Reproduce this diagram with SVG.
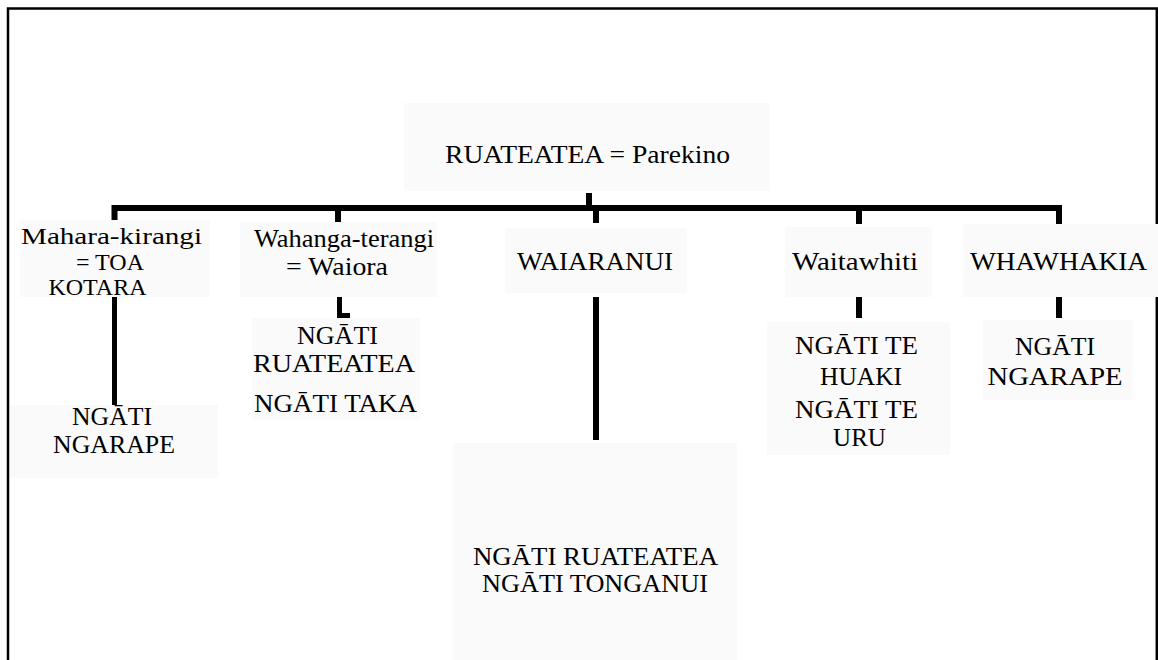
<svg xmlns="http://www.w3.org/2000/svg" width="1158" height="660" viewBox="0 0 1158 660">
  <style>
    .bg { fill: #fafafa; }
    .t { font-size: 25px; fill: #000; text-anchor: middle; }
    .s { font-size: 24px; }
    .ln { stroke: #000; fill: none; stroke-linecap: butt; stroke-linejoin: miter; }
    .frame { stroke: #000; stroke-width: 2.5; fill: none; }
  </style>

  <rect width="1158" height="660" fill="#fff"/>

  <!-- page frame -->
  <path class="frame" d="M8 660 V8.5 H1158 M1156.8 8 V660"/>

  <!-- descent lines -->
  <g id="connectors">
    <path class="ln" stroke-width="6" d="M114.5 222 V208 H1059 V224"/>
    <line class="ln" stroke-width="6" x1="589" y1="193" x2="589" y2="208"/>
    <line class="ln" stroke-width="6" x1="338" y1="208" x2="338" y2="223"/>
    <line class="ln" stroke-width="6" x1="596" y1="208" x2="596" y2="223"/>
    <line class="ln" stroke-width="6" x1="859" y1="208" x2="859" y2="224"/>
    <line class="ln" stroke-width="5" x1="114.5" y1="297" x2="114.5" y2="432"/>
    <path class="ln" stroke-width="5" d="M339.5 297 V315.5 H350"/>
    <line class="ln" stroke-width="6" x1="596" y1="297" x2="596" y2="440"/>
    <line class="ln" stroke-width="6" x1="859" y1="297" x2="859" y2="318"/>
    <line class="ln" stroke-width="6" x1="1059" y1="297" x2="1059" y2="318"/>
  </g>

  <g font-family="Liberation Serif, Times New Roman, serif">
  <g id="ruateatea">
    <rect class="bg" x="404" y="103" width="366" height="88"/>
    <text class="t" x="587.5" y="163" textLength="285" lengthAdjust="spacingAndGlyphs">RUATEATEA = Parekino</text>
  </g>

  <g id="mahara-kirangi">
    <rect class="bg" x="20" y="220" width="190" height="77"/>
    <text class="t s" x="111.5" y="244" textLength="181" lengthAdjust="spacingAndGlyphs">Mahara-kirangi</text>
    <text class="t s" x="110" y="270">= TOA</text>
    <text class="t s" x="97.5" y="295">KOTARA</text>
  </g>

  <g id="ngati-ngarape-left">
    <rect class="bg" x="10" y="405" width="208" height="73"/>
    <text class="t" x="112" y="425" textLength="80" lengthAdjust="spacingAndGlyphs">NGĀTI</text>
    <text class="t" x="114" y="453" textLength="122" lengthAdjust="spacingAndGlyphs">NGARAPE</text>
  </g>

  <g id="wahanga-terangi">
    <rect class="bg" x="240" y="222" width="197" height="75"/>
    <text class="t" x="344" y="247" textLength="180" lengthAdjust="spacingAndGlyphs">Wahanga-terangi</text>
    <text class="t" x="337" y="275" textLength="102" lengthAdjust="spacingAndGlyphs">= Waiora</text>
  </g>

  <g id="ngati-ruateatea-taka">
    <rect class="bg" x="252" y="318" width="168" height="102"/>
    <text class="t" x="337.5" y="344" textLength="81" lengthAdjust="spacingAndGlyphs">NGĀTI</text>
    <text class="t" x="334" y="372" textLength="162" lengthAdjust="spacingAndGlyphs">RUATEATEA</text>
    <text class="t" x="335.5" y="412" textLength="163" lengthAdjust="spacingAndGlyphs">NGĀTI TAKA</text>
  </g>

  <g id="waiaranui">
    <rect class="bg" x="505" y="228" width="182" height="65"/>
    <text class="t" x="595" y="270" textLength="156" lengthAdjust="spacingAndGlyphs">WAIARANUI</text>
  </g>

  <g id="ngati-ruateatea-tonganui">
    <rect class="bg" x="453" y="443" width="284" height="217"/>
    <text class="t" x="595.5" y="565" textLength="245" lengthAdjust="spacingAndGlyphs">NGĀTI RUATEATEA</text>
    <text class="t" x="595" y="592" textLength="226" lengthAdjust="spacingAndGlyphs">NGĀTI TONGANUI</text>
  </g>

  <g id="waitawhiti">
    <rect class="bg" x="785" y="227" width="147" height="70"/>
    <text class="t" x="855" y="270" textLength="126" lengthAdjust="spacingAndGlyphs">Waitawhiti</text>
  </g>

  <g id="ngati-te-huaki-uru">
    <rect class="bg" x="767" y="322" width="183" height="133"/>
    <text class="t" x="856.5" y="354" textLength="123" lengthAdjust="spacingAndGlyphs">NGĀTI TE</text>
    <text class="t" x="861" y="385" textLength="82" lengthAdjust="spacingAndGlyphs">HUAKI</text>
    <text class="t" x="856.5" y="418" textLength="123" lengthAdjust="spacingAndGlyphs">NGĀTI TE</text>
    <text class="t" x="859.5" y="446">URU</text>
  </g>

  <g id="whawhakia">
    <rect class="bg" x="963" y="224" width="195" height="73"/>
    <text class="t" x="1058.5" y="270" textLength="177" lengthAdjust="spacingAndGlyphs">WHAWHAKIA</text>
  </g>

  <g id="ngati-ngarape-right">
    <rect class="bg" x="983" y="320" width="150" height="80"/>
    <text class="t" x="1055" y="355" textLength="80" lengthAdjust="spacingAndGlyphs">NGĀTI</text>
    <text class="t" x="1055" y="385" textLength="135" lengthAdjust="spacingAndGlyphs">NGARAPE</text>
  </g>
  </g>
</svg>
